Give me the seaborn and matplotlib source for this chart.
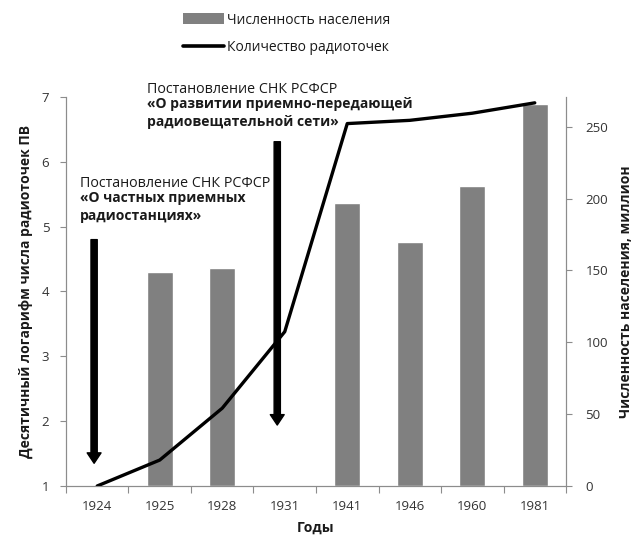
import numpy as np
import pandas as pd
import matplotlib
matplotlib.use("Agg")
import matplotlib.pyplot as plt
from matplotlib.patches import Patch
from matplotlib.lines import Line2D
import seaborn as sns

sns.set_theme(style="white")
plt.rcParams["font.family"] = ["Open Sans", "DejaVu Sans"]

# Data
years = ["1924", "1925", "1928", "1931", "1941", "1946", "1960", "1981"]
log_radio_points = [1.0, 1.40, 2.20, 3.38, 6.59, 6.64, 6.75, 6.91]
bar_years = ["1925", "1928", "1941", "1946", "1960", "1981"]
population_mln = [149, 152, 197, 170, 209, 266]

decree_1_title = "Постановление СНК РСФСР"
decree_1_name = "«О частных приемных\nрадиостанциях»"
decree_2_title = "Постановление СНК РСФСР"
decree_2_name = "«О развитии приемно-передающей\nрадиовещательной сети»"

bars_df = pd.DataFrame({"year": bar_years, "population": population_mln})
line_df = pd.DataFrame({"pos": np.arange(len(years)), "value": log_radio_points})

axis_gray = "#8c8c8c"
text_gray = "#333333"

fig = plt.figure(figsize=(6.32, 5.38), dpi=100)
ax = fig.add_axes([0.1044, 0.0967, 0.7912, 0.723])
ax2 = ax.twinx()

# Population bars on the right-hand axis
sns.barplot(data=bars_df, x="year", y="population", order=years,
            color="#808080", saturation=1, width=0.41, ax=ax2)
ax2.set_ylim(0, 270.7)
ax2.set_yticks([0, 50, 100, 150, 200, 250])

# Radio points line on the left-hand axis, drawn above the bars
ax.set_zorder(ax2.get_zorder() + 1)
ax.patch.set_visible(False)
sns.lineplot(data=line_df, x="pos", y="value", color="black",
             linewidth=2.4, ax=ax)
ax.set_ylim(1, 7)
ax.set_yticks(range(1, 8))
ax.set_xlim(-0.5, len(years) - 0.5)
ax.set_xticks(np.arange(len(years)))
ax.set_xticklabels(years)
ax.set_xticks(np.arange(len(years) + 1) - 0.5, minor=True)
ax.tick_params(axis="x", which="major", length=0, pad=10,
               labelsize=9.5, labelcolor=text_gray)
ax.tick_params(axis="x", which="minor", length=5, color=axis_gray,
               width=0.8, direction="out", bottom=True)
ax.tick_params(axis="y", length=4, color=axis_gray, width=0.8,
               direction="out", left=True, labelsize=9.5, labelcolor=text_gray,
               pad=8)
ax2.tick_params(axis="y", length=4, color=axis_gray, width=0.8,
                direction="out", right=True, labelsize=9.5,
                labelcolor=text_gray, pad=10)
ax2.set_xlabel("")

for a in (ax, ax2):
    for side in ("left", "right", "bottom"):
        a.spines[side].set_color(axis_gray)
        a.spines[side].set_linewidth(0.8)
    a.spines["top"].set_visible(False)

ax.set_xlabel("Годы", fontsize=10, fontweight="bold", color="#1a1a1a",
              labelpad=6)
ax.set_ylabel("Десятичный логарифм числа радиоточек ПВ", fontsize=10,
              fontweight="bold", color="#1a1a1a", labelpad=6)
ax2.set_ylabel("Численность населения, миллион", fontsize=10,
               fontweight="bold", color="#1a1a1a", labelpad=8)

# Decree markers
arrow_style = "simple,tail_width=0.45,head_width=1.0,head_length=0.75"
ax.annotate("", xy=(-0.05, 1.35), xytext=(-0.05, 4.80),
            arrowprops=dict(arrowstyle=arrow_style, color="black",
                            mutation_scale=10, shrinkA=0, shrinkB=0))
ax.annotate("", xy=(2.88, 1.94), xytext=(2.88, 6.31),
            arrowprops=dict(arrowstyle=arrow_style, color="black",
                            mutation_scale=10, shrinkA=0, shrinkB=0))

ax.text(-0.28, 5.05, decree_1_name, fontsize=10, fontweight="bold",
        color="#1a1a1a", va="bottom", ha="left", linespacing=1.4)
ax.text(-0.28, 5.55, decree_1_title, fontsize=10.3, color="#1a1a1a",
        va="bottom", ha="left")
ax.text(0.79, 6.50, decree_2_name, fontsize=10, fontweight="bold",
        color="#1a1a1a", va="bottom", ha="left", linespacing=1.4)
ax.text(0.79, 7.00, decree_2_title, fontsize=10.3, color="#1a1a1a",
        va="bottom", ha="left", clip_on=False)

# Legend above the plot
handles = [Patch(facecolor="#808080", edgecolor="none"),
           Line2D([0], [0], color="black", linewidth=2.6)]
labels = ["Численность населения", "Количество радиоточек"]
fig.legend(handles, labels, loc="upper left", bbox_to_anchor=(0.269, 1.0),
           frameon=False, fontsize=10, handlelength=3.0, handleheight=0.9,
           handletextpad=0.2, labelspacing=0.9, labelcolor="#1a1a1a")

fig.savefig("out.png", dpi=100)
